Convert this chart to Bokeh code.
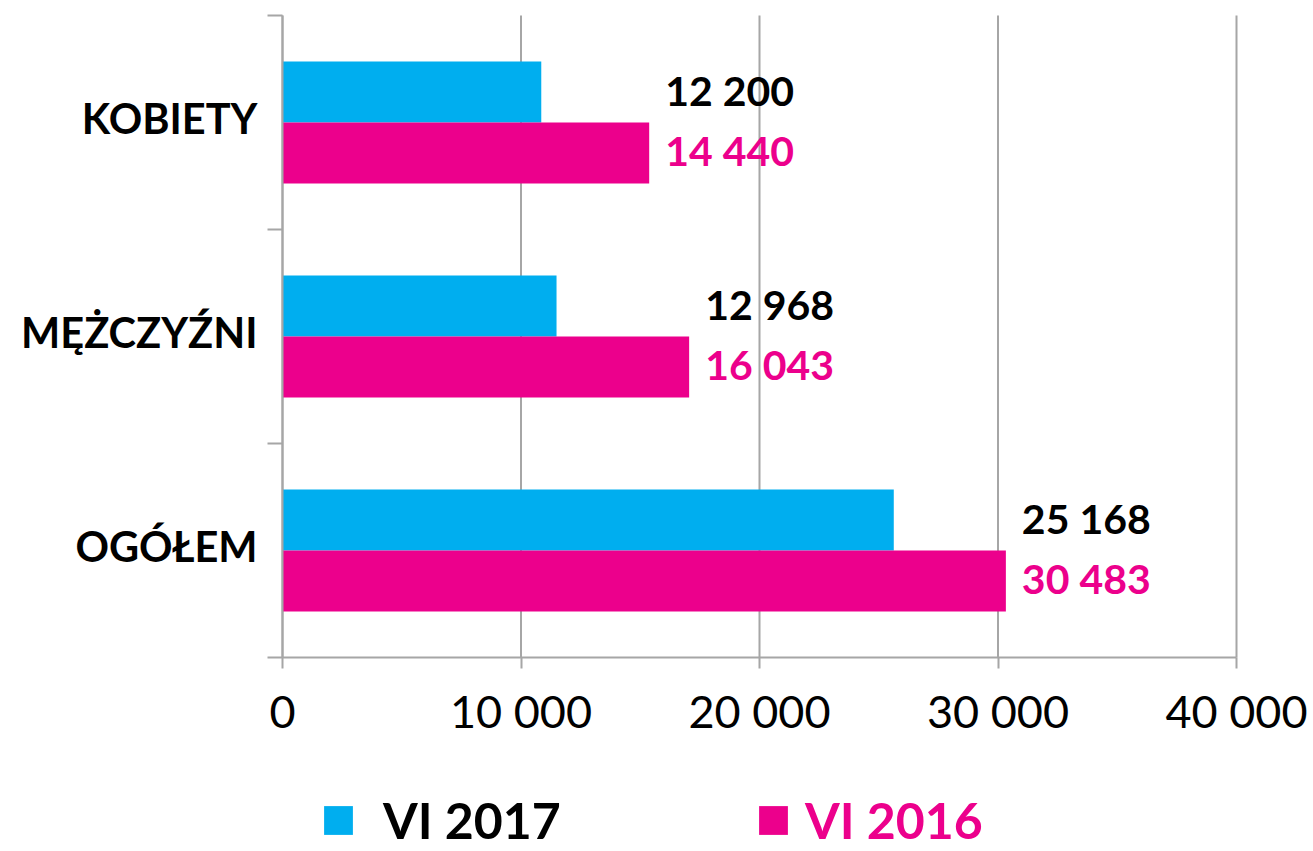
from bokeh.plotting import figure
from bokeh.models import FixedTicker, Legend, LegendItem, ColumnDataSource, LinearAxis
from bokeh.core.properties import value
from bokeh.embed import file_html
from bokeh.resources import INLINE

categories = ["OGÓŁEM", "MĘŻCZYŹNI", "KOBIETY"]
vals_2017 = [25630, 11490, 10850]
vals_2016 = [30330, 17050, 15375]
labels_2017 = ["25 168", "12 968", "12 200"]
labels_2016 = ["30 483", "16 043", "14 440"]
x_ticks = [0, 10000, 20000, 30000, 40000]
x_tick_labels = ["0", "10 000", "20 000", "30 000", "40 000"]
series_names = ["VI 2017", "VI 2016"]

BLUE = "#00AEEF"
PINK = "#EC008C"
GRID = "#A6A6A6"
BAR_H = 0.285
N = len(categories)
XMAX = x_ticks[-1]

centers = [i + 0.5 for i in range(N)]
bounds_y = list(range(N + 1))
y17 = [c + BAR_H / 2 for c in centers]
y16 = [c - BAR_H / 2 for c in centers]

src17 = ColumnDataSource(dict(y=y17, right=vals_2017, right16=vals_2016, lab=labels_2017))
src16 = ColumnDataSource(dict(y=y16, right=vals_2016, lab=labels_2016))
srcg = ColumnDataSource(dict(x=x_ticks, y0=[0] * len(x_ticks), y1=[N] * len(x_ticks)))

# the frame fills the whole canvas; axes are placed at fixed data locations
W, H = 1313, 851
px_per_x = 954 / XMAX          # 0 at x=282 px, 40000 at x=1236 px
px_per_y = 214                 # one category band
x_start = -282 / px_per_x
x_end = XMAX + (W - 1236) / px_per_x
y_start = -(H - 657) / px_per_y
y_end = N + 15 / px_per_y

p = figure(width=W, height=H, x_range=(x_start, x_end), y_range=(y_start, y_end),
           x_axis_location=None, y_axis_location=None,
           output_backend="svg", toolbar_location=None,
           min_border_left=0, min_border_right=0, min_border_top=0, min_border_bottom=0)
p.outline_line_color = None
p.grid.grid_line_color = None

# vertical grid lines only over the plotting band
p.segment(x0="x", y0="y0", x1="x", y1="y1", source=srcg, line_color=GRID, line_width=2)

r17 = p.hbar(y="y", right="right", left=0, height=BAR_H, source=src17,
             fill_color=BLUE, line_color=None)
r16 = p.hbar(y="y", right="right", left=0, height=BAR_H, source=src16,
             fill_color=PINK, line_color=None)

p.text(x="right16", y="y", text="lab", source=src17, x_offset=16, y_offset=-2,
       text_font=value("Lato"), text_font_style="bold", text_font_size="41px",
       text_color="black", text_baseline="middle", text_align="left")
p.text(x="right", y="y", text="lab", source=src16, x_offset=16, y_offset=-2,
       text_font=value("Lato"), text_font_style="bold", text_font_size="41px",
       text_color=PINK, text_baseline="middle", text_align="left")

# x axis fixed at y = 0
xa = LinearAxis(fixed_location=0, bounds=(0, XMAX))
p.add_layout(xa, "below")
xa.ticker = FixedTicker(ticks=x_ticks)
xa.major_label_overrides = {t: l for t, l in zip(x_ticks, x_tick_labels)}
xa.axis_line_color = GRID
xa.axis_line_width = 2
xa.major_tick_line_color = GRID
xa.major_tick_line_width = 2
xa.major_tick_out = 11
xa.major_tick_in = 0
xa.minor_tick_line_color = None
xa.major_label_text_font = "Lato"
xa.major_label_text_font_size = "45px"
xa.major_label_text_color = "black"
xa.major_label_standoff = 15

# y axis fixed at x = 0
lab_ticks = [c + 0.023 for c in centers]
ya = LinearAxis(fixed_location=0, bounds=(0, N))
p.add_layout(ya, "left")
ya.ticker = FixedTicker(ticks=lab_ticks, minor_ticks=bounds_y)
ya.major_label_overrides = {t: n for t, n in zip(lab_ticks, categories)}
ya.axis_line_color = GRID
ya.axis_line_width = 2
ya.major_tick_line_color = None
ya.major_tick_out = 0
ya.major_tick_in = 0
ya.minor_tick_line_color = GRID
ya.minor_tick_line_width = 2
ya.minor_tick_out = 15
ya.minor_tick_in = 0
ya.major_label_text_font = "Lato"
ya.major_label_text_font_style = "bold"
ya.major_label_text_font_size = "41.5px"
ya.major_label_text_color = "black"
ya.major_label_standoff = 10

def make_legend(name, rend, color, x, y, standoff):
    lg = Legend(items=[LegendItem(label=name, renderers=[rend])], location=(x, y),
                orientation="horizontal", padding=0, margin=0, spacing=0,
                border_line_color=None, background_fill_alpha=0,
                glyph_width=36, glyph_height=36, label_standoff=standoff,
                label_text_font="Lato", label_text_font_style="bold",
                label_text_font_size="50px", label_text_color=color,
                label_height=36, label_text_baseline="middle")
    p.add_layout(lg, "center")

make_legend(series_names[0], r17, "black", 320, 1, 27)
make_legend(series_names[1], r16, PINK, 755, 1, 14)

open("out.html", "w").write(file_html(p, INLINE))
